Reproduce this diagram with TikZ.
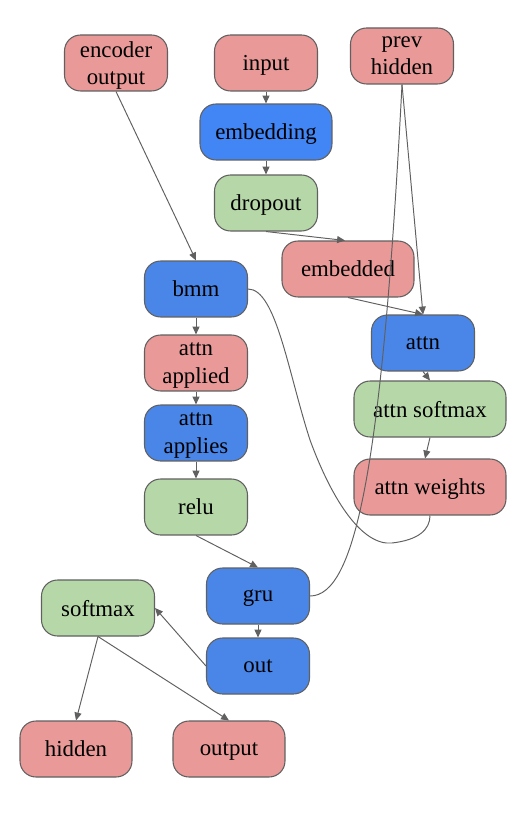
\documentclass[tikz,border=0pt]{standalone}
\usepackage{fontspec}
\setmainfont{Liberation Serif}
\usetikzlibrary{arrows.meta}

\definecolor{boxred}{HTML}{E99A98}
\definecolor{boxblue}{HTML}{4A86E8}
\definecolor{boxbrightblue}{HTML}{4285F4}
\definecolor{boxgreen}{HTML}{B6D7A8}
\definecolor{edgegray}{HTML}{606060}

\tikzset{
  box/.style={draw=edgegray, line width=0.6pt, rounded corners=0.32cm,
    minimum width=2.06cm, minimum height=1.12cm, align=center,
    inner sep=2pt, text depth=0pt, font=\fontsize{13}{15.5}\selectfont},
  redbox/.style={box, fill=boxred},
  bluebox/.style={box, fill=boxblue},
  greenbox/.style={box, fill=boxgreen},
  link/.style={draw=edgegray, line width=0.55pt},
  arr/.style={link, -{Triangle[length=4.5pt,width=4pt]}}
}

\begin{document}
\begin{tikzpicture}[x=0.02cm,y=-0.02cm]
  \useasboundingbox (0,0) rectangle (514,837);

  % Inputs
  \node[redbox] (enc) at (116,63) {encoder\\output};
  \node[redbox] (inp) at (266,63) {input};
  \node[redbox] (prev) at (402,56) {prev\\hidden};

  % Embedding branch
  \node[box, fill=boxbrightblue, minimum width=2.64cm] (emb) at (266,132) {embedding};
  \node[greenbox] (drop) at (266,203) {dropout};
  \node[redbox, minimum width=2.64cm] (embd) at (348,269) {embedded};

  % Attention branch
  \node[bluebox] (attn) at (423,343) {attn};
  \node[greenbox, minimum width=3.04cm] (asm) at (430,409) {attn softmax};
  \node[redbox, minimum width=3.04cm] (aw) at (430,487) {attn weights};

  % Combine branch
  \node[bluebox] (bmm) at (196,289) {bmm};
  \node[redbox] (aapd) at (196,363) {attn\\applied};
  \node[bluebox] (aaps) at (196,433) {attn\\applies};
  \node[greenbox] (relu) at (196,507) {relu};

  % Output part
  \node[bluebox] (gru) at (258,596) {gru};
  \node[bluebox] (out) at (258,666) {out};
  \node[greenbox, minimum width=2.26cm] (smax) at (98,608) {softmax};
  \node[redbox, minimum width=2.24cm] (hid) at (76,749) {hidden};
  \node[redbox, minimum width=2.24cm] (outp) at (229,749) {output};

  % Edges
  \draw[arr] (enc.south) -- (bmm.north);
  \draw[arr] (inp) -- (emb);
  \draw[arr] (emb) -- (drop);
  \draw[arr] (drop.south) -- ([xshift=-0.06cm]embd.north);
  \draw[arr] (embd.south) -- (attn.north);
  \draw[arr] (prev.south) -- (attn.north);
  \draw[link] (prev.south) .. controls (382,470) and (355,596) .. (gru.east);
  \draw[link] (bmm.east) .. controls (276,289) and (288,372) .. (310,440)
    .. controls (332,500) and (362,546) .. (392,543)
    .. controls (418,540) and (430,530) .. (aw.south);
  \draw[arr] (attn.south) -- (asm.north);
  \draw[arr] (asm.south) -- ([xshift=-0.1cm]aw.north);
  \draw[arr] (bmm) -- (aapd);
  \draw[arr] (aapd) -- (aaps);
  \draw[arr] (aaps) -- (relu);
  \draw[arr] (relu.south) -- (gru.north);
  \draw[arr] (gru) -- (out);
  \draw[arr] (out.west) -- (smax.east);
  \draw[arr] (smax.south) -- (hid.north);
  \draw[arr] (smax.south) -- (outp.north);
\end{tikzpicture}
\end{document}
